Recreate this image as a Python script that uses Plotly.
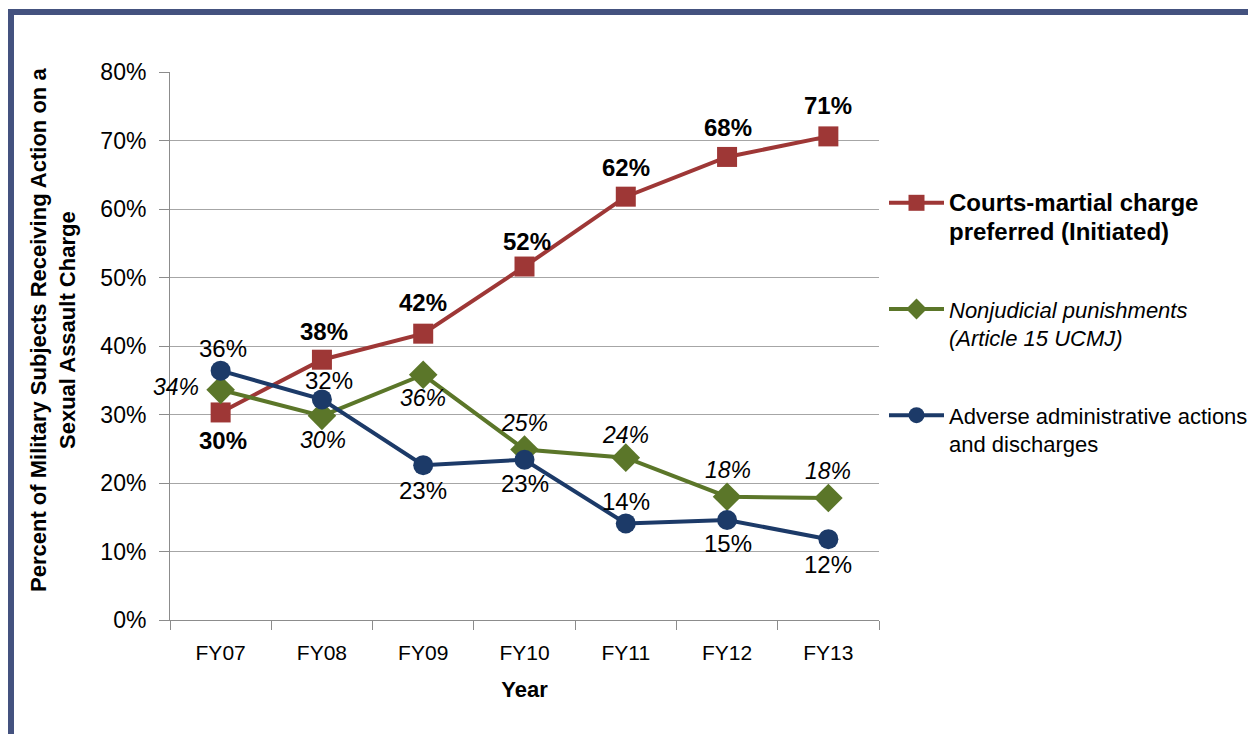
import plotly.graph_objects as go

# Fiscal years and share of subjects (%) receiving each type of action
years = ["FY07", "FY08", "FY09", "FY10", "FY11", "FY12", "FY13"]
courts_martial = [30.3, 38.0, 41.8, 51.6, 61.8, 67.6, 70.6]
nonjudicial = [33.6, 29.8, 35.8, 24.9, 23.7, 18.0, 17.8]
adverse_admin = [36.4, 32.2, 22.6, 23.4, 14.1, 14.6, 11.8]
y_ticks = [0, 10, 20, 30, 40, 50, 60, 70, 80]

FONT = "Liberation Sans, Arial, sans-serif"
RED = "#9e3736"
GREEN = "#5b7629"
BLUE = "#1c3a68"
FRAME = "#44527f"

W, H = 1248, 734
L, R, T, B = 170, 369, 72, 114
PW, PH = W - L - R, H - T - B


def px_x(p):
    return (p - L) / PW


def px_y(p):
    return (H - B - p) / PH


def pct(v):
    return f"{int(v + 0.5)}%"


fig = go.Figure()

series = [
    ("<span style='font-size:24px'><b>Courts-martial charge<br>preferred (Initiated)</b></span>",
     courts_martial, RED, "square"),
    ("<i>Nonjudicial punishments<br>(Article 15 UCMJ)</i>", nonjudicial, GREEN, "diamond"),
    ("Adverse administrative actions<br>and discharges", adverse_admin, BLUE, "circle"),
]
for i, (name, vals, color, symbol) in enumerate(series):
    fig.add_trace(go.Scatter(
        x=years, y=vals, name=name, mode="lines+markers",
        legendgroup=f"g{i}",
        line=dict(color=color, width=4),
        marker=dict(symbol=symbol, size=20 if symbol != "diamond" else 22, color=color),
        hoverinfo="skip",
    ))

# Value labels: (xshift, yshift) in pixels relative to each point
red_offsets = [(2, -28), (2, 28), (0, 31), (2, 25), (0, 29), (1, 29), (0, 31)]
green_offsets = [(-45, 3), (1, -24), (0, -23), (0, 26), (0, 23), (1, 27), (0, 27)]
blue_offsets = [(2, 22), (7, 19), (0, -25), (0, -24), (0, 22), (1, -24), (0, -25)]

label_sets = [
    (courts_martial, red_offsets, dict(family=FONT, size=24, color="black", weight="bold")),
    (nonjudicial, green_offsets, dict(family=FONT, size=23, color="black", style="italic")),
    (adverse_admin, blue_offsets, dict(family=FONT, size=24, color="black")),
]
for vals, offs, font in label_sets:
    for yr, v, (dx, dy) in zip(years, vals, offs):
        fig.add_annotation(
            x=yr, y=v, text=pct(v), showarrow=False,
            xshift=dx, yshift=dy, font=font,
        )

# Rotated y-axis title
fig.add_annotation(
    xref="paper", yref="paper", x=px_x(53), y=px_y(330),
    text="<b>Percent of Military Subjects Receiving Action on a<br>Sexual Assault Charge</b>",
    textangle=-90, showarrow=False, xanchor="center", yanchor="middle",
    font=dict(family=FONT, size=22, color="black"),
)

# Frame along the top and left edges
fig.add_shape(type="rect", xref="paper", yref="paper",
              x0=px_x(8), x1=px_x(W + 5), y0=px_y(9), y1=px_y(15),
              fillcolor=FRAME, line=dict(width=0), layer="above")
fig.add_shape(type="rect", xref="paper", yref="paper",
              x0=px_x(8), x1=px_x(14), y0=px_y(9), y1=px_y(H + 5),
              fillcolor=FRAME, line=dict(width=0), layer="above")

fig.update_layout(
    width=W, height=H,
    margin=dict(l=L, r=R, t=T, b=B, autoexpand=False),
    paper_bgcolor="white", plot_bgcolor="white",
    font=dict(family=FONT, size=22, color="black"),
    showlegend=True,
    legend=dict(
        x=px_x(884), y=px_y(182), xanchor="left", yanchor="top",
        font=dict(family=FONT, size=22, color="black"),
        valign="top", tracegroupgap=46, itemwidth=55,
        traceorder="grouped",
    ),
    xaxis=dict(
        type="category", range=[-0.5, 6.5],
        showline=True, linecolor="#8c8c8c", linewidth=1,
        ticks="outside", tickson="boundaries", ticklen=9, tickcolor="#8c8c8c",
        showgrid=False, tickfont=dict(family=FONT, size=21),
        ticklabelstandoff=14,
        title=dict(text="<b>Year</b>", font=dict(family=FONT, size=22), standoff=18),
    ),
    yaxis=dict(
        range=[0, 80], tickvals=y_ticks, ticktext=[f"{v}%" for v in y_ticks],
        showline=True, linecolor="#8c8c8c", linewidth=1,
        ticks="outside", ticklen=10, tickcolor="#8c8c8c",
        showgrid=True, gridcolor="#a6a6a6", gridwidth=1,
        zeroline=False,
        tickfont=dict(family=FONT, size=23),
        ticklabelstandoff=8,
    ),
)

fig.write_html("out.html")
